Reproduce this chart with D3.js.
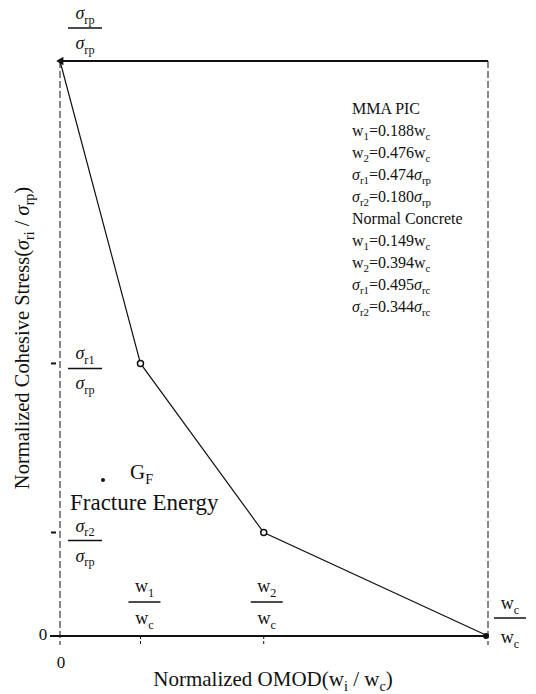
<!DOCTYPE html>
<html>
<head>
<script src="https://d3js.org/d3.v7.min.js"></script>
<style>
  body { margin: 0; background: #fff; }
  svg { display: block; }
</style>
</head>
<body>
<svg width="536" height="694"></svg>
<script>
// trilinear softening curve (MMA PIC), normalized
const omod   = [0, 0.188, 0.476, 1];
const stress = [1, 0.474, 0.180, 0];

// tick fractions on each axis
const yTickVals = [0.474, 0.180];
const xTickVals = [0.188, 0.476];

// legend block, _{..} marks a subscript
const legendLines = [
  "MMA PIC",
  "w_{1}=0.188w_{c}",
  "w_{2}=0.476w_{c}",
  "σ_{r1}=0.474σ_{rp}",
  "σ_{r2}=0.180σ_{rp}",
  "Normal Concrete",
  "w_{1}=0.149w_{c}",
  "w_{2}=0.394w_{c}",
  "σ_{r1}=0.495σ_{rc}",
  "σ_{r2}=0.344σ_{rc}"
];

const FONT = "'Liberation Serif', 'DejaVu Serif', serif";
const svg = d3.select("svg").attr("font-family", FONT).attr("fill", "#111");
const x = d3.scaleLinear().domain([0, 1]).range([60, 488]);
const y = d3.scaleLinear().domain([0, 1]).range([636, 61]);

// writes a string with _{sub} parts and italic sigma into a text element
function rich(t, str, size) {
  t.attr("font-size", size).attr("font-family", FONT).attr("fill", "#111");
  const parts = str.split(/(_\{[^}]*\})/).filter(s => s.length);
  let down = false;
  parts.forEach(p => {
    if (p.startsWith("_{")) {
      t.append("tspan").attr("dy", size * 0.25).attr("font-size", size * 0.68).text(p.slice(2, -1));
      down = true;
    } else {
      p.split(/(σ)/).filter(s => s.length).forEach(q => {
        const ts = t.append("tspan").text(q);
        if (down) { ts.attr("dy", -size * 0.25); down = false; }
        if (q === "σ") ts.attr("font-style", "italic");
      });
    }
  });
  return t;
}

function fraction(cx, ly, num, den, w, size, numOff, denOff) {
  const g = svg.append("g");
  rich(g.append("text").attr("x", cx).attr("y", ly - numOff).attr("text-anchor", "middle"), num, size);
  g.append("line").attr("x1", cx - w / 2).attr("x2", cx + w / 2)
    .attr("y1", ly).attr("y2", ly).attr("stroke", "#111").attr("stroke-width", 1.5);
  rich(g.append("text").attr("x", cx).attr("y", ly + denOff).attr("text-anchor", "middle"), den, size);
}

// frame: solid top & bottom, dashed left & right
svg.append("line").attr("x1", x(0) - 2).attr("x2", x(1)).attr("y1", y(1)).attr("y2", y(1))
  .attr("stroke", "#111").attr("stroke-width", 2);
svg.append("line").attr("x1", x(0) - 10).attr("x2", x(1)).attr("y1", y(0)).attr("y2", y(0))
  .attr("stroke", "#111").attr("stroke-width", 2);
svg.append("line").attr("x1", x(0)).attr("x2", x(0)).attr("y1", y(1)).attr("y2", y(0) + 9)
  .attr("stroke", "#111").attr("stroke-width", 1).attr("stroke-dasharray", "7,3");
svg.append("line").attr("x1", x(1)).attr("x2", x(1)).attr("y1", y(1)).attr("y2", y(0) + 9)
  .attr("stroke", "#111").attr("stroke-width", 1).attr("stroke-dasharray", "7,3");

// small ticks
svg.selectAll(".yt").data(yTickVals).enter().append("line")
  .attr("x1", x(0) - 9).attr("x2", x(0) - 4)
  .attr("y1", d => y(d)).attr("y2", d => y(d))
  .attr("stroke", "#111").attr("stroke-width", 2);
svg.selectAll(".xt").data(xTickVals).enter().append("line")
  .attr("x1", d => x(d)).attr("x2", d => x(d))
  .attr("y1", y(0)).attr("y2", y(0) + 8)
  .attr("stroke", "#111").attr("stroke-width", 1).attr("stroke-dasharray", "3,2");

// the curve
const pts = omod.map((d, i) => [x(d), y(stress[i])]);
svg.append("path").attr("d", d3.line()(pts))
  .attr("fill", "none").attr("stroke", "#111").attr("stroke-width", 1.2);
svg.selectAll(".pt").data(pts.slice(1, 3)).enter().append("circle")
  .attr("cx", d => d[0]).attr("cy", d => d[1]).attr("r", 3)
  .attr("fill", "#fff").attr("stroke", "#111").attr("stroke-width", 1.5);
// end markers
svg.append("path").attr("d", d3.symbol(d3.symbolTriangle, 30)())
  .attr("transform", `translate(${pts[0][0] + 1},${pts[0][1]}) rotate(-90)`).attr("fill", "#111");
svg.append("circle").attr("cx", pts[3][0] - 2).attr("cy", pts[3][1]).attr("r", 3).attr("fill", "#111");

// fraction labels along the axes
fraction(85, 28, "σ_{rp}", "σ_{rp}", 34, 18, 9, 21);
fraction(85, y(stress[1]) + 5, "σ_{r1}", "σ_{rp}", 34, 18, 9, 21);
fraction(85, y(stress[2]) + 8, "σ_{r2}", "σ_{rp}", 34, 18, 9, 21);
fraction(x(omod[1]) + 4, 602, "w_{1}", "w_{c}", 32, 18, 10, 22);
fraction(x(omod[2]) + 3, 602, "w_{2}", "w_{c}", 32, 18, 10, 22);
fraction(510, 618, "w_{c}", "w_{c}", 32, 18, 9, 25);

// zero labels
rich(svg.append("text").attr("x", 43).attr("y", 640).attr("text-anchor", "middle"), "0", 17);
rich(svg.append("text").attr("x", x(0) + 1).attr("y", 668).attr("text-anchor", "middle"), "0", 17);

// axis titles
rich(svg.append("text").attr("x", 273).attr("y", 686).attr("text-anchor", "middle"),
  "Normalized OMOD(w_{i} / w_{c})", 21);
rich(svg.append("text").attr("text-anchor", "middle")
  .attr("transform", "translate(29,338) rotate(-90)"),
  "Normalized Cohesive Stress(σ_{ri} / σ_{rp})", 20.5);

// fracture energy note
svg.append("circle").attr("cx", 103).attr("cy", 480).attr("r", 2).attr("fill", "#111");
rich(svg.append("text").attr("x", 130).attr("y", 479), "G_{F}", 21);
rich(svg.append("text").attr("x", 70).attr("y", 510), "Fracture Energy", 23);

// legend
legendLines.forEach((s, i) => {
  rich(svg.append("text").attr("x", 352).attr("y", 114 + 22 * i), s, 16);
});
</script>
</body>
</html>
